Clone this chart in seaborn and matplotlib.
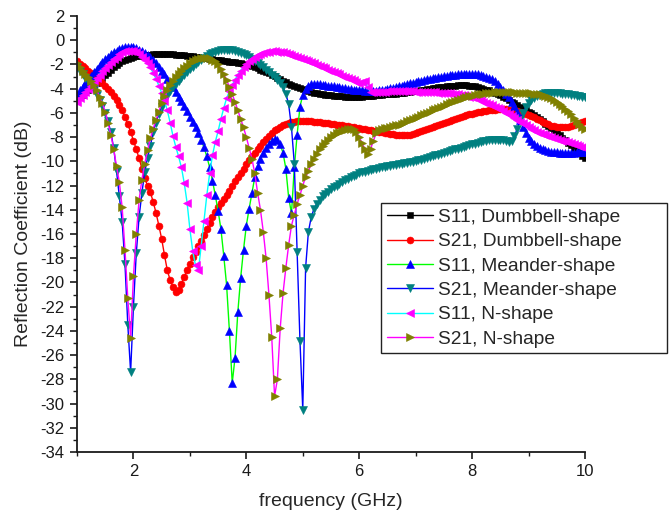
import numpy as np
import matplotlib
matplotlib.use("Agg")
import matplotlib.pyplot as plt
import seaborn as sns
from matplotlib.ticker import MultipleLocator

# frequency grid (GHz), 0.05 GHz step from 1 to 10
freq = np.round(np.arange(1.0, 10.0001, 0.05), 2)

s11_dumbbell = [
    -4.9, -4.7, -4.5, -4.3, -4.1, -3.9, -3.7, -3.5, -3.3, -3.1, -2.9, -2.7, -2.45, -2.25, -2.05, -1.9, -1.75, -1.65, -1.55, -1.47,
    -1.4, -1.34, -1.3, -1.25, -1.22, -1.2, -1.18, -1.16, -1.15, -1.14, -1.14, -1.14, -1.15, -1.16, -1.17, -1.18, -1.2, -1.22, -1.25, -1.28,
    -1.3, -1.33, -1.36, -1.4, -1.43, -1.46, -1.5, -1.53, -1.56, -1.6, -1.63, -1.66, -1.7, -1.73, -1.76, -1.8, -1.83, -1.86, -1.9, -1.95,
    -2.0, -2.07, -2.15, -2.23, -2.32, -2.42, -2.52, -2.62, -2.72, -2.85, -2.97, -3.1, -3.22, -3.35, -3.47, -3.6, -3.7, -3.8, -3.9, -3.98,
    -4.05, -4.12, -4.2, -4.26, -4.32, -4.38, -4.43, -4.47, -4.5, -4.53, -4.56, -4.58, -4.6, -4.62, -4.64, -4.65, -4.66, -4.67, -4.67, -4.67,
    -4.66, -4.65, -4.63, -4.61, -4.59, -4.57, -4.55, -4.53, -4.5, -4.48, -4.46, -4.44, -4.42, -4.4, -4.38, -4.35, -4.32, -4.29, -4.26, -4.23,
    -4.2, -4.17, -4.13, -4.09, -4.05, -4.01, -3.97, -3.93, -3.9, -3.87, -3.84, -3.81, -3.78, -3.76, -3.74, -3.73, -3.72, -3.72, -3.73, -3.75,
    -3.78, -3.82, -3.87, -3.93, -4.0, -4.07, -4.15, -4.24, -4.34, -4.45, -4.56, -4.68, -4.8, -4.93, -5.06, -5.2, -5.34, -5.48, -5.62, -5.76,
    -5.9, -6.05, -6.2, -6.36, -6.52, -6.7, -6.88, -7.06, -7.25, -7.44, -7.64, -7.84, -8.04, -8.25, -8.46, -8.67, -8.88, -9.1, -9.32, -9.54,
    -9.76]

s21_dumbbell = [
    -1.75, -1.95, -2.15, -2.3, -2.5, -2.7, -2.9, -3.1, -3.3, -3.55, -3.8, -4.05, -4.3, -4.6, -4.95, -5.35, -5.8, -6.35, -6.95, -7.55,
    -8.3, -9.0, -9.75, -10.6, -11.4, -12.0, -12.55, -13.35, -14.25, -15.3, -16.4, -17.75, -19.0, -19.8, -20.35, -20.75, -20.6, -20.1, -19.55, -19.0,
    -18.45, -17.9, -17.45, -17.0, -16.55, -16.1, -15.6, -15.1, -14.6, -14.15, -13.75, -13.45, -13.15, -12.8, -12.45, -12.05, -11.65, -11.3, -10.95, -10.6,
    -10.25, -9.9, -9.6, -9.3, -9.0, -8.7, -8.4, -8.12, -7.88, -7.65, -7.45, -7.3, -7.15, -7.02, -6.92, -6.84, -6.78, -6.74, -6.71, -6.69,
    -6.68, -6.68, -6.69, -6.7, -6.72, -6.75, -6.78, -6.81, -6.84, -6.87, -6.9, -6.93, -6.97, -7.0, -7.04, -7.08, -7.12, -7.16, -7.2, -7.24,
    -7.28, -7.32, -7.36, -7.4, -7.44, -7.48, -7.52, -7.56, -7.6, -7.64, -7.68, -7.72, -7.76, -7.8, -7.83, -7.85, -7.85, -7.83, -7.8, -7.75,
    -7.68, -7.6, -7.52, -7.43, -7.34, -7.25, -7.16, -7.07, -6.98, -6.89, -6.8, -6.72, -6.64, -6.56, -6.48, -6.4, -6.33, -6.26, -6.19, -6.12,
    -6.06, -6.0, -5.95, -5.9, -5.86, -5.82, -5.79, -5.76, -5.74, -5.72, -5.71, -5.71, -5.72, -5.74, -5.77, -5.81, -5.86, -5.92, -5.99, -6.07,
    -6.16, -6.26, -6.37, -6.48, -6.6, -6.72, -6.84, -6.95, -7.05, -7.12, -7.17, -7.2, -7.2, -7.18, -7.13, -7.06, -6.98, -6.9, -6.82, -6.75,
    -6.7]

s11_meander = [
    -4.5, -4.15, -3.85, -3.55, -3.25, -2.95, -2.65, -2.35, -2.05, -1.8, -1.55, -1.35, -1.15, -0.98, -0.85, -0.72, -0.63, -0.57, -0.55, -0.56,
    -0.6, -0.67, -0.77, -0.9, -1.05, -1.22, -1.42, -1.65, -1.9, -2.2, -2.5, -2.83, -3.17, -3.52, -3.88, -4.25, -4.65, -5.05, -5.45, -5.85,
    -6.3, -6.75, -7.2, -7.7, -8.25, -8.85, -9.6, -10.5, -11.6, -12.8, -14.1, -15.6, -17.8, -20.2, -24.0, -28.3, -26.2, -22.4, -19.6, -17.3,
    -15.3, -13.9, -12.6, -11.3, -10.4, -9.8, -9.3, -8.9, -8.55, -8.3, -8.15, -8.2, -8.6, -9.3, -10.6, -13.0, -14.3, -10.5, -7.8, -5.5,
    -4.5, -4.0, -3.75, -3.65, -3.62, -3.62, -3.64, -3.67, -3.7, -3.74, -3.78, -3.82, -3.86, -3.9, -3.94, -3.98, -4.01, -4.04, -4.07, -4.1,
    -4.12, -4.14, -4.16, -4.17, -4.18, -4.18, -4.17, -4.15, -4.12, -4.08, -4.03, -3.98, -3.92, -3.86, -3.8, -3.74, -3.68, -3.62, -3.56, -3.5,
    -3.44, -3.39, -3.34, -3.29, -3.24, -3.19, -3.14, -3.1, -3.06, -3.02, -2.98, -2.94, -2.9, -2.87, -2.84, -2.81, -2.79, -2.77, -2.76, -2.76,
    -2.77, -2.79, -2.82, -2.87, -2.93, -3.01, -3.11, -3.24, -3.4, -3.6, -3.83, -4.1, -4.4, -4.72, -5.06, -5.45, -5.95, -6.55, -7.15, -7.65,
    -8.05, -8.35, -8.57, -8.73, -8.86, -8.97, -9.06, -9.13, -9.19, -9.23, -9.26, -9.28, -9.3, -9.31, -9.31, -9.3, -9.29, -9.27, -9.25, -9.22,
    -9.2]

s21_meander = [
    -2.2, -2.5, -2.8, -3.1, -3.4, -3.75, -4.1, -4.5, -4.95, -5.45, -6.0, -6.7, -7.6, -8.9, -10.8, -12.9, -15.0, -18.5, -23.5, -27.4,
    -22.0, -17.6, -14.6, -12.6, -10.9, -9.7, -8.7, -7.6, -6.8, -6.1, -5.5, -5.0, -4.6, -4.2, -3.9, -3.6, -3.35, -3.1, -2.85, -2.6,
    -2.4, -2.2, -2.0, -1.8, -1.6, -1.45, -1.3, -1.17, -1.05, -0.95, -0.87, -0.82, -0.79, -0.78, -0.79, -0.82, -0.87, -0.94, -1.02, -1.12,
    -1.24, -1.37, -1.52, -1.68, -1.85, -2.04, -2.25, -2.45, -2.65, -2.85, -3.05, -3.3, -3.55, -3.9, -4.4, -5.3, -7.2, -10.2, -17.5, -24.8,
    -30.5, -18.8, -15.8, -14.6, -13.9, -13.5, -13.2, -12.9, -12.7, -12.5, -12.3, -12.15, -12.0, -11.85, -11.7, -11.55, -11.42, -11.3, -11.2, -11.1,
    -11.0, -10.92, -10.85, -10.78, -10.72, -10.66, -10.6, -10.55, -10.5, -10.45, -10.4, -10.36, -10.32, -10.28, -10.24, -10.2, -10.16, -10.12, -10.08, -10.03,
    -9.98, -9.92, -9.86, -9.79, -9.72, -9.65, -9.58, -9.51, -9.44, -9.37, -9.3, -9.23, -9.16, -9.09, -9.02, -8.95, -8.88, -8.81, -8.74, -8.67,
    -8.6, -8.53, -8.46, -8.4, -8.34, -8.29, -8.25, -8.22, -8.2, -8.2, -8.22, -8.27, -8.33, -8.38, -8.3, -7.9, -7.3, -6.6, -6.0, -5.55,
    -5.2, -4.95, -4.75, -4.6, -4.5, -4.43, -4.38, -4.36, -4.35, -4.35, -4.36, -4.38, -4.4, -4.44, -4.48, -4.52, -4.56, -4.6, -4.64, -4.67,
    -4.7]

s11_nshape = [
    -5.1, -4.8, -4.5, -4.25, -4.0, -3.75, -3.45, -3.15, -2.85, -2.55, -2.3, -2.05, -1.8, -1.55, -1.35, -1.15, -1.0, -0.9, -0.85, -0.85,
    -0.9, -1.0, -1.15, -1.35, -1.6, -1.9, -2.25, -2.7, -3.2, -3.75, -4.35, -5.0, -5.8, -6.8, -7.9, -8.8, -9.6, -10.5, -11.8, -13.4,
    -15.6, -17.4, -18.6, -19.0, -17.0, -14.9, -12.8, -11.0, -9.5, -8.4, -7.5, -6.5, -5.6, -4.8, -4.2, -3.7, -3.25, -2.85, -2.5, -2.2,
    -1.95, -1.72, -1.53, -1.37, -1.24, -1.13, -1.05, -0.99, -0.95, -0.93, -0.93, -0.94, -0.97, -1.01, -1.06, -1.12, -1.19, -1.27, -1.35, -1.44,
    -1.53, -1.62, -1.72, -1.82, -1.92, -2.02, -2.12, -2.22, -2.32, -2.42, -2.52, -2.62, -2.72, -2.82, -2.92, -3.02, -3.12, -3.22, -3.32, -3.42,
    -3.5, -3.45, -3.35, -3.9, -4.25, -4.3, -4.3, -4.28, -4.26, -4.24, -4.22, -4.2, -4.19, -4.18, -4.17, -4.17, -4.18, -4.19, -4.2, -4.22,
    -4.24, -4.25, -4.26, -4.27, -4.28, -4.29, -4.3, -4.31, -4.32, -4.33, -4.34, -4.36, -4.38, -4.4, -4.43, -4.46, -4.5, -4.55, -4.6, -4.66,
    -4.72, -4.8, -4.88, -4.97, -5.06, -5.16, -5.26, -5.37, -5.48, -5.6, -5.72, -5.85, -5.98, -6.12, -6.27, -6.42, -6.57, -6.72, -6.87, -7.02,
    -7.16, -7.3, -7.43, -7.55, -7.66, -7.76, -7.85, -7.93, -8.01, -8.08, -8.15, -8.22, -8.29, -8.36, -8.43, -8.5, -8.57, -8.64, -8.71, -8.78,
    -8.85]

s21_nshape = [
    -1.9, -2.2, -2.5, -2.75, -3.0, -3.35, -3.7, -4.1, -4.7, -5.2, -5.9, -6.8, -7.8, -9.0, -10.4, -11.7, -13.8, -17.3, -21.3, -24.6,
    -19.5, -16.0, -13.2, -11.5, -10.2, -9.1, -8.1, -7.3, -6.6, -5.9, -5.2, -4.6, -4.1, -3.7, -3.35, -3.05, -2.75, -2.5, -2.3, -2.1,
    -1.9, -1.75, -1.63, -1.55, -1.5, -1.47, -1.47, -1.5, -1.6, -1.75, -2.0, -2.35, -2.8, -3.3, -3.85, -4.45, -5.1, -5.8, -6.5, -7.2,
    -8.0, -8.9, -9.8, -11.0, -12.6, -14.0, -15.8, -18.0, -21.0, -24.5, -29.4, -28.0, -23.8, -20.9, -18.8, -16.9, -15.3, -14.4, -13.5, -12.8,
    -12.0, -11.3, -10.8, -10.2, -9.8, -9.4, -9.0, -8.7, -8.45, -8.2, -8.0, -7.85, -7.7, -7.58, -7.47, -7.38, -7.32, -7.3, -7.35, -7.55,
    -8.0, -8.5, -9.0, -9.4, -9.0, -8.3, -7.7, -7.45, -7.35, -7.28, -7.22, -7.15, -7.08, -7.02, -6.96, -6.88, -6.8, -6.7, -6.6, -6.5,
    -6.4, -6.3, -6.2, -6.1, -6.0, -5.9, -5.8, -5.7, -5.6, -5.5, -5.4, -5.3, -5.2, -5.1, -5.0, -4.92, -4.84, -4.77, -4.7, -4.64,
    -4.58, -4.53, -4.48, -4.44, -4.4, -4.37, -4.34, -4.32, -4.3, -4.29, -4.28, -4.28, -4.28, -4.29, -4.3, -4.31, -4.32, -4.33, -4.34, -4.35,
    -4.36, -4.38, -4.4, -4.43, -4.47, -4.53, -4.6, -4.69, -4.8, -4.93, -5.08, -5.25, -5.44, -5.65, -5.88, -6.13, -6.4, -6.67, -6.93, -7.17,
    -7.35]

labels = ["S11, Dumbbell-shape", "S21, Dumbbell-shape", "S11, Meander-shape",
          "S21, Meander-shape", "S11, N-shape", "S21, N-shape"]
series = [s11_dumbbell, s21_dumbbell, s11_meander, s21_meander, s11_nshape, s21_nshape]
line_colors = ["#000000", "#ff0000", "#00ff00", "#0000ff", "#00ffff", "#ff00ff"]
marker_colors = ["#000000", "#ff0000", "#0000ff", "#008080", "#ff00ff", "#808000"]
marker_shapes = ["s", "o", "^", "v", "<", ">"]

for s in series:
    assert len(s) == len(freq)

sns.set_style("ticks")
plt.rcParams['font.family'] = ['Liberation Sans', 'DejaVu Sans']
plt.rcParams['axes.unicode_minus'] = False

fig = plt.figure(figsize=(6.71, 5.14), dpi=100)
ax = fig.add_axes([77 / 671, 1 - 452 / 514, 508 / 671, 436 / 514])

for ys, lab, lc, mc, mk in zip(series, labels, line_colors, marker_colors, marker_shapes):
    sns.lineplot(x=freq, y=ys, ax=ax, label=lab, color=lc, marker=mk,
                 markersize=5 if mk in ("s", "o") else 5.5,
                 markerfacecolor=mc, markeredgecolor=mc, markeredgewidth=0.4,
                 linewidth=1.0, errorbar=None, sort=False)

ax.set_xlim(1, 10)
ax.set_ylim(-34, 2)
ax.xaxis.set_major_locator(MultipleLocator(2))
ax.xaxis.set_minor_locator(MultipleLocator(1))
ax.yaxis.set_major_locator(MultipleLocator(2))
ax.yaxis.set_minor_locator(MultipleLocator(1))

for side in ("top", "right"):
    ax.spines[side].set_visible(False)
for side in ("left", "bottom"):
    ax.spines[side].set_linewidth(1.3)
    ax.spines[side].set_color("#1a1a1a")

ax.tick_params(which="major", direction="out", length=5, width=1.2, labelsize=12, colors="#1a1a1a", pad=4)
ax.tick_params(which="minor", direction="out", length=3, width=1.0, colors="#1a1a1a")

ax.set_xlabel("frequency (GHz)", fontsize=14, labelpad=10)
ax.set_ylabel("Reflection Coefficient (dB)", fontsize=14, labelpad=6)

handles, labs = ax.get_legend_handles_labels()
leg = ax.legend(handles, labs, loc="upper left",
                bbox_to_anchor=(381 / 671, 1 - 355 / 514, 286 / 671, 152 / 514),
                bbox_transform=fig.transFigure, mode="expand", borderaxespad=0,
                fontsize=13.8, handlelength=2.4, handletextpad=0.3,
                labelspacing=0.36, borderpad=0.3, frameon=True, fancybox=False,
                numpoints=1, framealpha=1)
leg.get_frame().set_edgecolor("#222222")
leg.get_frame().set_linewidth(1.0)

fig.savefig("out.png", dpi=100, facecolor="white")
